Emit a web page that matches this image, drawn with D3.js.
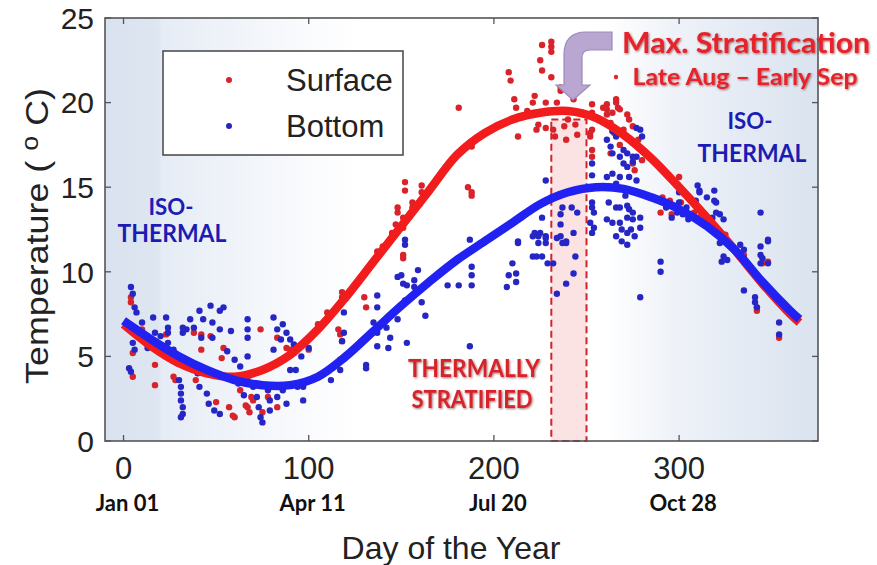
<!DOCTYPE html>
<html>
<head>
<meta charset="utf-8">
<script src="https://cdn.jsdelivr.net/npm/d3@7"></script>
<style>
  body { margin: 0; background: #fff; }
  svg { display: block; }
</style>
</head>
<body>
<svg width="877" height="565"></svg>
<script>
// fitted curves, every 15 days
var fitDays    = [0, 15, 30, 45, 60, 75, 90, 105, 120, 135, 150, 165, 180, 195, 210, 225, 240, 255, 270, 285, 300, 315, 330, 345, 360, 365];
var surfaceFit = [6.9, 5.6, 4.6, 4.0, 3.8, 4.2, 5.1, 6.6, 8.5, 10.6, 12.7, 14.8, 16.9, 18.2, 19.0, 19.4, 19.5, 19.1, 18.1, 16.7, 15.0, 13.2, 11.3, 9.3, 7.5, 7.0];
var bottomFit  = [7.1, 6.0, 5.0, 4.2, 3.6, 3.3, 3.3, 3.8, 5.0, 6.5, 8.0, 9.4, 10.7, 11.8, 12.9, 14.0, 14.7, 15.0, 14.9, 14.4, 13.7, 12.7, 11.3, 9.4, 7.7, 7.2];

// measurements [day, temperature]
var surfacePts = [
  [4,8.5],[4,8.2],[5,3.8],[5,5.2],[17,4.5],[17,3.3],[23,6.3],[27,3.8],[28,3.6],[38,6.4],[42,6.3],[42,5.4],
  [47,6.2],[53,4.9],[54,5.5],[39,3.6],[59,3.6],[60,1.4],[66,2.1],[69,2.6],[74,6.6],[78,2.6],[83,6.1],[83,2.0],
  [90,5.4],[100,5.4],[50,2.3],[57,2.0],[59,1.5],[67,2.0],[68,1.7],[75,1.7],[70,2.4],[88,5.5],[10,6.6],[63,3.0],
  [118,8.8],[118,8.5],[130,8.5],[131,7.9],[116,6.6],[117,6.3],[118,5.9],[137,11.2],[137,10.9],[151,11.0],[151,10.8],
  [147,12.8],[148,13.8],[148,13.5],[151,13.2],[151,12.6],[156,14.1],[156,13.8],[152,15.3],[152,14.8],[161,15.1],
  [161,14.7],[186,15.0],[188,14.7],[188,14.5],[188,17.4],[181,19.7],[208,21.8],[209,21.3],[211,20.2],[212,19.7],
  [213,18.0],[105,6.9],[110,7.6],[125,9.2],[140,11.5],[145,12.3],[160,14.0],[170,15.5],
  [222,20.4],[221,20.0],[225,22.5],[226,21.9],[226,23.4],[231,23.6],[231,23.3],[231,23.0],[231,21.5],[236,20.9],
  [236,20.7],[228,20.0],[234,20.0],[243,20.2],[253,19.9],[253,19.4],[261,19.9],[261,19.6],[266,20.0],[223,18.4],
  [228,18.5],[232,18.4],[238,18.6],[244,18.7],[245,18.1],[233,18.0],[239,17.8],[224,18.7],[253,18.4],[252,18.0],
  [253,17.2],[253,16.8],[252,18.2],[218,19.5],[240,19.0],
  [259,19.7],[261,19.3],[264,19.4],[266,20.2],[267,19.7],[268,19.6],[272,19.3],[273,19.0],[275,18.6],[263,18.8],
  [270,18.4],[275,16.4],[276,16.0],[280,16.6],[265,18.2],[268,17.5],[271,18.0],[278,17.8],[263,17.0],
  [291,14.4],[295,14.2],[301,14.1],[290,13.5],[296,13.4],[300,15.6],[300,15.0],[308,13.5],[310,13.2],[320,12.6],
  [345,10.5],[348,10.6],[342,7.9],[342,7.7],[354,6.1],[335,11.0],[325,12.2]
];
var bottomPts = [
  [4,9.1],[5,8.7],[6,7.9],[7,7.6],[3,4.3],[4,4.1],[5,5.8],[6,5.4],[16,7.3],[17,6.4],[23,7.3],[24,6.7],[24,6.4],
  [24,5.8],[27,5.4],[28,5.0],[29,4.6],[30,3.6],[31,3.2],[31,2.8],[31,2.4],[32,2.0],[32,1.6],[31,1.4],[32,6.7],
  [32,6.4],[34,6.6],[36,7.2],[38,6.7],[41,7.7],[47,8.0],[43,7.2],[48,7.0],[52,7.7],[54,7.9],[52,6.6],[42,6.1],
  [48,6.1],[45,2.8],[46,2.2],[49,1.8],[52,1.6],[41,3.2],[40,4.0],[60,4.8],[63,4.4],[67,7.2],[67,6.6],[67,6.1],
  [67,5.0],[67,3.8],[70,3.2],[72,2.6],[73,2.0],[74,1.4],[75,1.1],[79,1.8],[78,3.0],[81,7.3],[83,6.6],[85,6.0],
  [81,5.4],[86,6.9],[88,6.4],[90,6.0],[92,5.7],[92,5.2],[90,4.2],[93,4.2],[94,3.2],[86,3.0],[88,2.2],[83,2.6],
  [79,2.4],[97,3.2],[97,2.4],[112,3.6],[117,4.2],[117,4.8],[10,7.0],[20,6.2],[56,5.3],[58,6.5],[62,3.4],[65,2.7],
  [96,5.0],[100,5.5],[13,5.5],
  [119,7.6],[119,6.4],[118,5.9],[131,4.5],[131,4.3],[137,5.6],[143,5.5],[153,5.8],[137,8.6],[137,7.9],[135,7.0],
  [137,6.4],[142,6.7],[144,6.1],[148,7.2],[152,8.3],[161,8.2],[163,7.4],[148,9.7],[150,9.8],[151,9.3],[153,9.2],
  [157,9.5],[159,10.1],[157,9.1],[152,11.9],[152,11.6],[187,11.9],[188,10.3],[188,9.8],[188,9.2],[175,9.2],
  [181,9.2],[187,5.6],[213,11.7],[210,10.5],[208,9.8],[212,9.9],[212,9.4],[207,9.1],[221,12.1],[221,10.9],
  [224,12.1],[228,12.1],[224,11.7],[228,11.7],[223,10.9],[226,10.9],[229,10.5],[232,10.5],[236,12.1],[239,11.7],
  [243,12.3],[244,10.9],[239,9.3],[243,9.9],[234,8.7],[228,15.4],[231,14.4],[237,13.8],[242,13.8],[245,13.5],
  [236,13.4],[236,12.8],[226,13.2],[225,12.3],[228,12.0],[222,12.3],[213,11.8],[234,12.0],[237,11.7],[239,11.8],
  [253,16.4],[253,15.7],[253,14.1],[253,13.8],[254,13.5],[252,12.9],[254,12.6],[253,12.3],
  [261,17.8],[263,17.4],[264,17.0],[268,16.8],[270,16.4],[272,16.2],[275,16.5],[277,16.8],[279,18.4],[280,18.0],
  [261,15.6],[264,15.8],[268,15.6],[273,15.6],[277,15.4],[277,18.5],[264,18.3],[266,18.0],[270,17.2],[272,17.0],
  [275,16.8],[262,14.1],[266,13.8],[268,13.8],[272,13.9],[273,13.7],[275,13.5],[261,13.1],[264,12.9],[268,12.9],
  [272,13.2],[275,13.1],[279,13.2],[269,12.5],[272,12.3],[274,12.5],[276,12.1],[279,12.6],[266,12.1],[269,11.8],
  [272,11.6],[266,15.2],[271,14.5],
  [290,10.6],[290,10.0],[279,8.5],[293,13.8],[296,13.2],[299,13.5],[302,13.4],[305,13.1],[308,13.2],[300,14.7],
  [300,14.1],[304,13.8],[309,14.2],[311,14.8],[315,14.4],[319,14.2],[320,13.5],[322,13.4],[324,13.1],[318,13.2],
  [310,15.1],[311,14.7],[319,14.8],[320,14.1],[322,11.7],[323,10.6],[324,10.9],[333,11.6],[335,11.3],[335,8.9],
  [341,8.5],[341,8.2],[342,7.9],[344,11.5],[344,11.0],[345,10.8],[348,11.8],[344,10.5],[348,10.5],[344,13.5],
  [348,11.9],[354,7.0],[354,6.3],[326,10.7]
];

var xTicks = [0, 100, 200, 300];
var dateLabels = ["Jan 01", "Apr 11", "Jul 20", "Oct 28"];
var yTicks = [0, 5, 10, 15, 20, 25];
var stratWindow = [231, 250, 19];   // first day, last day, top of the box

var svg = d3.select("svg");
var plotL = 105, plotR = 818, plotT = 18, plotB = 441;

var x = d3.scaleLinear().domain([-10, 375]).range([plotL, plotR]);
var y = d3.scaleLinear().domain([0, 25]).range([plotB, plotT]);

// background shading
var defs = svg.append("defs");
var grad = defs.append("linearGradient").attr("id", "bg");
[[0, "#d9e2ef"], [0.075, "#dee6f1"], [0.08, "#e6ecf5"], [0.3, "#fbfcfe"], [0.36, "#fff"],
 [0.7, "#fff"], [0.8, "#eef2f8"], [0.92, "#e2e9f3"], [1, "#dae3ef"]].forEach(function(s) {
  grad.append("stop").attr("offset", s[0]).attr("stop-color", s[1]);
});
var shadow = defs.append("filter").attr("id", "shd").attr("x", "-5%").attr("y", "-20%").attr("width", "110%").attr("height", "140%");
shadow.append("feDropShadow").attr("dx", 1).attr("dy", 1).attr("stdDeviation", 0.8)
  .attr("flood-color", "#500").attr("flood-opacity", 0.55);

svg.append("rect").attr("x", plotL).attr("y", plotT)
  .attr("width", plotR - plotL).attr("height", plotB - plotT)
  .attr("fill", "url(#bg)");

// max stratification window
svg.append("rect")
  .attr("x", x(stratWindow[0])).attr("y", y(stratWindow[2]))
  .attr("width", x(stratWindow[1]) - x(stratWindow[0]))
  .attr("height", y(0) - y(stratWindow[2]))
  .attr("fill", "#f9d9da").attr("fill-opacity", 0.75)
  .attr("stroke", "#d2232a").attr("stroke-width", 2).attr("stroke-dasharray", "7,4");

// dots
function dots(data, color) {
  svg.append("g").selectAll("circle")
    .data(data)
    .enter()
    .append("circle")
      .attr("cx", function(d) { return x(d[0]); })
      .attr("cy", function(d) { return y(d[1]); })
      .attr("r", 3.2)
      .attr("fill", color);
}
dots(surfacePts, "#d9232b");
dots(bottomPts, "#2626c4");

// fitted lines
function fit(vals, color) {
  var line = d3.line()
    .x(function(d, i) { return x(fitDays[i]); })
    .y(function(d) { return y(d); })
    .curve(d3.curveCatmullRom);
  svg.append("path").datum(vals)
    .attr("d", line)
    .attr("fill", "none")
    .attr("stroke", color)
    .attr("stroke-width", 8.5)
    .attr("stroke-linecap", "butt");
}
fit(surfaceFit, "#f21c1c");
fit(bottomFit, "#2121f2");

// frame and ticks (inward on every side)
var axisColor = "#555";
svg.append("rect").attr("x", plotL).attr("y", plotT)
  .attr("width", plotR - plotL).attr("height", plotB - plotT)
  .attr("fill", "none").attr("stroke", axisColor).attr("stroke-width", 1.6);

var tk = 6;
xTicks.forEach(function(t) {
  svg.append("line").attr("x1", x(t)).attr("x2", x(t)).attr("y1", plotB).attr("y2", plotB - tk)
    .attr("stroke", axisColor).attr("stroke-width", 1.3);
  svg.append("line").attr("x1", x(t)).attr("x2", x(t)).attr("y1", plotT).attr("y2", plotT + tk)
    .attr("stroke", axisColor).attr("stroke-width", 1.3);
});
yTicks.forEach(function(t) {
  svg.append("line").attr("x1", plotL).attr("x2", plotL + tk).attr("y1", y(t)).attr("y2", y(t))
    .attr("stroke", axisColor).attr("stroke-width", 1.3);
  svg.append("line").attr("x1", plotR).attr("x2", plotR - tk).attr("y1", y(t)).attr("y2", y(t))
    .attr("stroke", axisColor).attr("stroke-width", 1.3);
});

var tickFont = "'Liberation Sans', Arial, sans-serif";
svg.append("g").selectAll("text").data(yTicks).enter().append("text")
  .attr("x", 94).attr("y", function(d) { return y(d); })
  .attr("dy", "0.36em")
  .attr("text-anchor", "end")
  .attr("font-family", tickFont).attr("font-size", 30).attr("fill", "#222")
  .text(function(d) { return d; });

svg.append("g").selectAll("text").data(xTicks).enter().append("text")
  .attr("x", function(d) { return x(d); }).attr("y", 479)
  .attr("text-anchor", "middle")
  .attr("font-family", tickFont).attr("font-size", 31).attr("fill", "#222")
  .text(function(d) { return d; });

svg.append("g").selectAll("text").data(dateLabels).enter().append("text")
  .attr("x", function(d, i) { return x(xTicks[i]) + 4; }).attr("y", 511)
  .attr("text-anchor", "middle")
  .attr("font-family", "Lato, sans-serif").attr("font-weight", "bold")
  .attr("font-size", 22).attr("fill", "#111")
  .text(function(d) { return d; });

svg.append("text")
  .attr("x", 451).attr("y", 559)
  .attr("text-anchor", "middle")
  .attr("font-family", tickFont).attr("font-size", 32).attr("fill", "#222")
  .text("Day of the Year");

var yl = svg.append("text")
  .attr("transform", "translate(48,236) rotate(-90)")
  .attr("text-anchor", "middle")
  .attr("font-family", tickFont).attr("font-size", 32).attr("fill", "#222")
  .attr("textLength", 296).attr("lengthAdjust", "spacingAndGlyphs");
yl.append("tspan").text("Temperature ( ");
yl.append("tspan").attr("font-size", 24).attr("dy", -10).text("o");
yl.append("tspan").attr("dy", 10).text(" C)");

// legend
svg.append("rect").attr("x", 163).attr("y", 51).attr("width", 240).attr("height", 104)
  .attr("fill", "#fff").attr("stroke", "#444").attr("stroke-width", 1.5);
[["Surface", "#d9232b", 80], ["Bottom", "#2626c4", 126]].forEach(function(l) {
  svg.append("circle").attr("cx", 229).attr("cy", l[2]).attr("r", 3).attr("fill", l[1]);
  svg.append("text").attr("x", 286).attr("y", l[2]).attr("dy", "0.36em")
    .attr("font-family", tickFont).attr("font-size", 31).attr("fill", "#222").text(l[0]);
});

// annotations
function note(txt, cx, yy, size, color, len, shadowed) {
  var t = svg.append("text").attr("x", cx).attr("y", yy)
    .attr("text-anchor", "middle")
    .attr("font-family", "Lato, sans-serif").attr("font-weight", "bold")
    .attr("font-size", size).attr("fill", color)
    .attr("textLength", len).attr("lengthAdjust", "spacingAndGlyphs")
    .text(txt);
  if (shadowed) t.attr("filter", "url(#shd)");
}
var blueTxt = "#1c1cb4", redTxt = "#d8232a";
note("ISO-", 171, 215, 23, blueTxt, 45);
note("THERMAL", 172, 242, 24, blueTxt, 109);
note("ISO-", 750, 129, 23, blueTxt, 45);
note("THERMAL", 752, 162, 24, blueTxt, 109);
note("THERMALLY", 474, 377, 25, redTxt, 132, true);
note("STRATIFIED", 472, 408, 25, redTxt, 121, true);
note("Max. Stratification", 746, 53, 29, "#e8232a", 248, true);
note("Late Aug \u2013 Early Sep", 745, 85, 22, "#e8232a", 225, true);
svg.append("circle").attr("cx", 616).attr("cy", 77).attr("r", 2.2).attr("fill", "#e8232a");

// bent arrow pointing at the peak
svg.append("path")
  .attr("d", "M612,32 L586,32 Q564,32 564,55 L564,85 L556,85 L573,100 L590,85 L582,85 L582,58 Q582,50 590,50 L612,50 Z")
  .attr("fill", "#b9a7d2").attr("stroke", "#9c8bba").attr("stroke-width", 1.2);
</script>
</body>
</html>
